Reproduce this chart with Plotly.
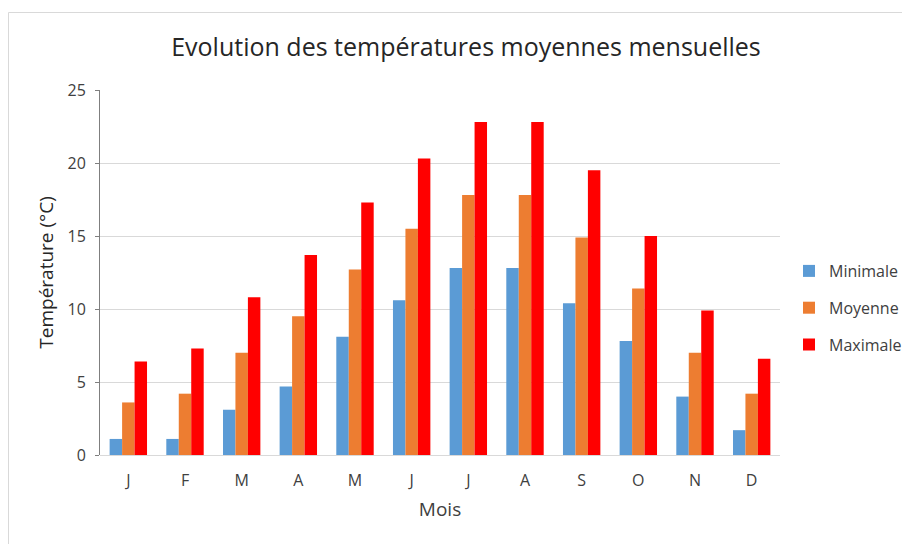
import plotly.graph_objects as go

mois = ["J", "F", "M", "A", "M", "J", "J", "A", "S", "O", "N", "D"]
minimale = [1.1, 1.1, 3.1, 4.7, 8.1, 10.6, 12.8, 12.8, 10.4, 7.8, 4.0, 1.7]
moyenne = [3.6, 4.2, 7.0, 9.5, 12.7, 15.5, 17.8, 17.8, 14.9, 11.4, 7.0, 4.2]
maximale = [6.4, 7.3, 10.8, 13.7, 17.3, 20.3, 22.8, 22.8, 19.5, 15.0, 9.9, 6.6]
y_ticks = [0, 5, 10, 15, 20, 25]

x_idx = list(range(len(mois)))

series = [
    ("Minimale", minimale, "#5B9BD5"),
    ("Moyenne", moyenne, "#ED7D31"),
    ("Maximale", maximale, "#FF0000"),
]

fig = go.Figure()
for i, (name, vals, col) in enumerate(series):
    fig.add_trace(go.Bar(
        x=x_idx, y=vals, name=name, marker=dict(color=col, line=dict(width=0)),
        legendgroup=f"g{i}",
    ))

# page body has an 8px margin: figure drawn at (8, 8)
OFF = 8
W, H = 910 - OFF, 544 - OFF
PL, PR, PT, PB = 100, 780, 90, 455  # plot area in screen pixels
L, R, T, B = PL - OFF, W - (PR - OFF), PT - OFF, H - (PB - OFF)
pw, ph = W - L - R, H - T - B

def px_x(p):
    return (p - OFF - L) / pw

def px_y(p):
    return 1 - (p - OFF - T) / ph

fig.update_layout(
    width=W, height=H,
    margin=dict(l=L, r=R, t=T, b=B, autoexpand=False),
    paper_bgcolor="white", plot_bgcolor="white",
    font=dict(family="Open Sans, Liberation Sans, sans-serif", color="#595959", size=14),
    barmode="group", bargap=0.34, bargroupgap=0,
    title=dict(text="Evolution des températures moyennes mensuelles",
               x=(466 - OFF) / W, xanchor="center", y=1 - (47 - OFF) / H, yanchor="middle",
               font=dict(size=25, color="#262626")),
    showlegend=True,
    legend=dict(x=px_x(789), xanchor="left", y=px_y(254), yanchor="top",
                font=dict(size=16, color="#404040"), tracegroupgap=13,
                bgcolor="rgba(0,0,0,0)"),
    xaxis=dict(tickmode="array", tickvals=x_idx, ticktext=mois,
               range=[-0.5, len(mois) - 0.5], showgrid=False, zeroline=False,
               showline=False, ticks="", ticklabelstandoff=14,
               title=dict(text="Mois", standoff=12, font=dict(size=19, color="#404040")),
               tickfont=dict(size=16, color="#404040")),
    yaxis=dict(range=[0, 25], tickvals=y_ticks, showgrid=True, gridcolor="#D9D9D9",
               gridwidth=1, zeroline=True, zerolinecolor="#D9D9D9", zerolinewidth=1,
               showline=True, linecolor="#7F7F7F", linewidth=1, ticks="outside",
               ticklen=4, tickcolor="#7F7F7F", ticklabelstandoff=6,
               title=dict(text="Température (°C)", standoff=8, font=dict(size=19, color="#262626")),
               tickfont=dict(size=16, color="#404040")),
)

# chart border
fig.add_shape(type="rect", xref="paper", yref="paper",
              x0=px_x(8.5), x1=px_x(907), y0=px_y(600), y1=px_y(12.5),
              line=dict(color="#D9D9D9", width=1), fillcolor="rgba(0,0,0,0)", layer="below")

fig.write_html("out.html")
